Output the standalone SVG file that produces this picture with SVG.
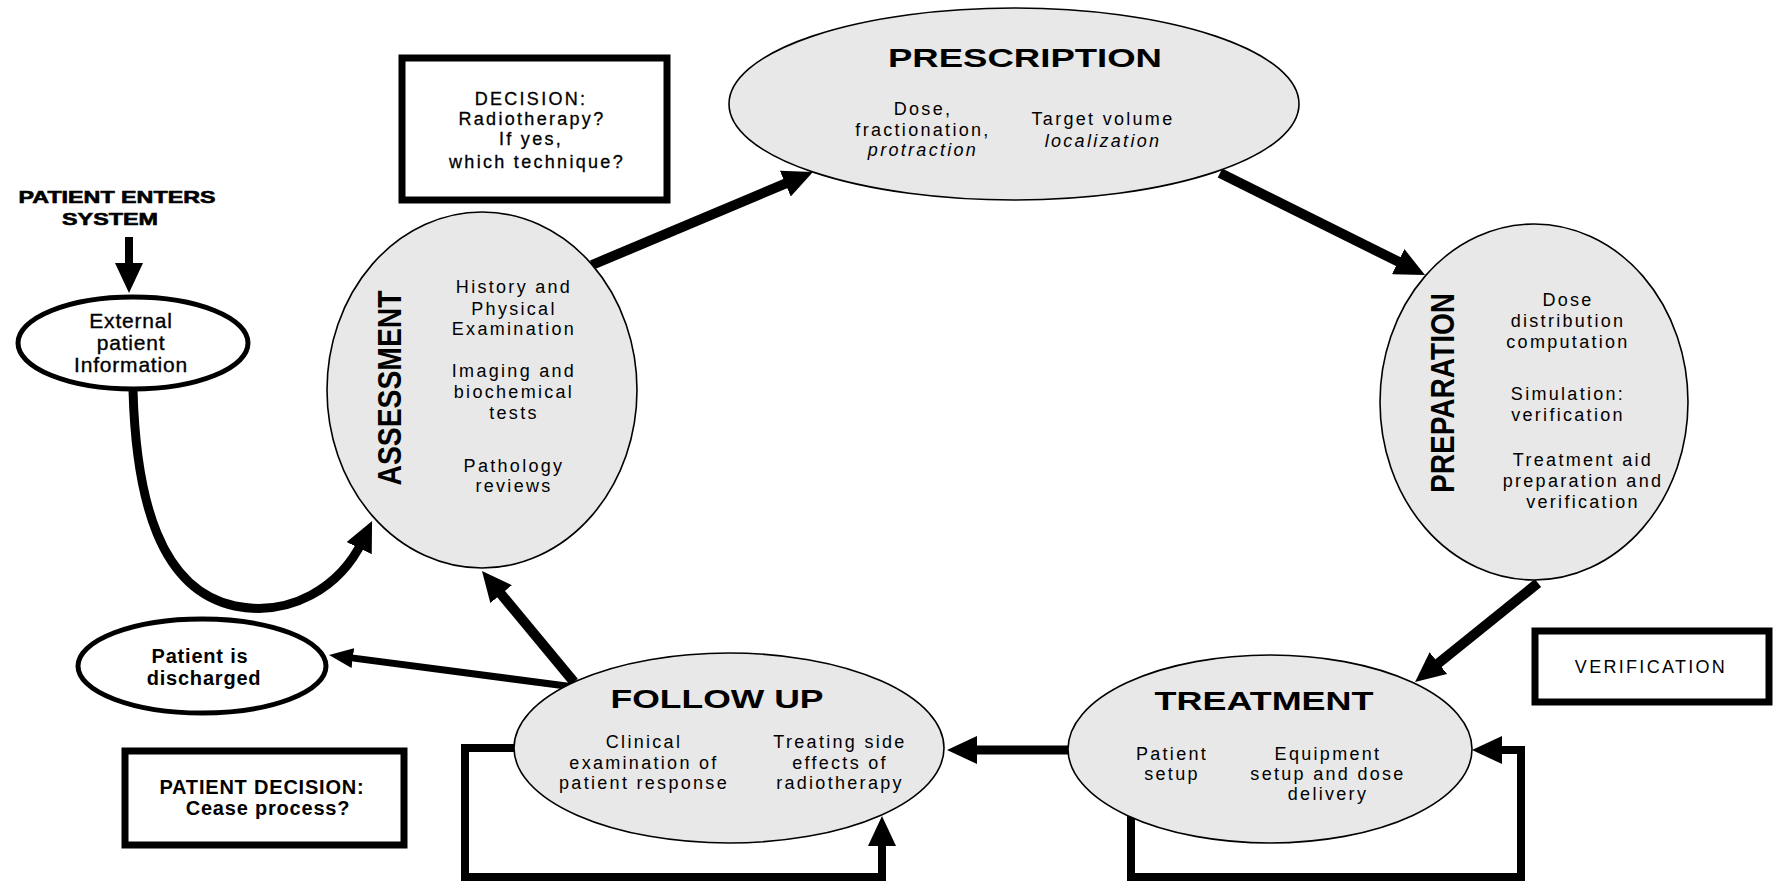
<svg xmlns="http://www.w3.org/2000/svg" width="1774" height="882" viewBox="0 0 1774 882">
<defs>
<style>
text{font-family:"Liberation Sans",Arial,sans-serif;fill:#000}
.b{font-size:18px;letter-spacing:2.3px}
.t{font-size:25px;font-weight:bold}
.v{font-size:34px;font-weight:bold}
.o{font-size:21px;letter-spacing:0.8px;stroke:#000;stroke-width:0.35}
.bb{font-size:20px;font-weight:bold;letter-spacing:0.8px}
.phase{fill:#e8e8e8;stroke:#000;stroke-width:1.6}
.oval{fill:#fff;stroke:#000;stroke-width:5}
.box{fill:#fff;stroke:#000;stroke-width:7}
.c{fill:none;stroke:#000}
</style>
<marker id="ah" markerUnits="userSpaceOnUse" markerWidth="30" markerHeight="28" refX="9" refY="14" orient="auto" viewBox="0 0 30 28"><path d="M0,0 L30,14 L0,28 z"/></marker>
<marker id="ah2" markerUnits="userSpaceOnUse" markerWidth="24" markerHeight="20" refX="7" refY="10" orient="auto" viewBox="0 0 24 20"><path d="M0,0 L24,10 L0,20 z"/></marker>
</defs>
<rect width="1774" height="882" fill="#fff"/>

<g id="connectors">
<line class="c" x1="592" y1="265" x2="793.6" y2="180.1" stroke-width="10" marker-end="url(#ah)"/>
<line class="c" x1="1220" y1="173" x2="1406.2" y2="265.6" stroke-width="10" marker-end="url(#ah)"/>
<line class="c" x1="1538" y1="583" x2="1431.4" y2="668.8" stroke-width="10" marker-end="url(#ah)"/>
<line class="c" x1="1070" y1="750" x2="968" y2="750" stroke-width="9" marker-end="url(#ah)"/>
<line class="c" x1="574" y1="682" x2="495.4" y2="587.2" stroke-width="10" marker-end="url(#ah)"/>
<line class="c" x1="574" y1="687" x2="345.9" y2="657.1" stroke-width="7" marker-end="url(#ah2)"/>
<line class="c" x1="129" y1="237" x2="129" y2="272" stroke-width="8" marker-end="url(#ah)"/>
<path class="c" d="M133,390 C136,500 160,590 235,606 C290,617 340,588 363,540" stroke-width="9" marker-end="url(#ah)"/>
<path class="c" d="M516,748 H465 V877 H882 V837" stroke-width="8" marker-end="url(#ah)"/>
<path class="c" d="M1131,800 V877 H1521 V750 H1493" stroke-width="8" marker-end="url(#ah)"/>
</g>

<g id="prescription">
<ellipse class="phase" cx="1014" cy="104" rx="285" ry="96"/>
<text class="t" x="1025" y="67" text-anchor="middle" textLength="274" lengthAdjust="spacingAndGlyphs">PRESCRIPTION</text>
<text class="b" text-anchor="middle"><tspan x="923" y="115">Dose,</tspan><tspan x="923" y="136">fractionation,</tspan><tspan x="923" y="156" font-style="italic">protraction</tspan></text>
<text class="b" text-anchor="middle"><tspan x="1103" y="125">Target volume</tspan><tspan x="1103" y="147" font-style="italic">localization</tspan></text>
</g>

<g id="assessment">
<ellipse class="phase" cx="482" cy="390" rx="155" ry="178"/>
<text class="v" transform="translate(401,388) rotate(-90)" text-anchor="middle" textLength="195" lengthAdjust="spacingAndGlyphs">ASSESSMENT</text>
<text class="b" text-anchor="middle"><tspan x="514" y="293">History and</tspan><tspan x="514" y="315">Physical</tspan><tspan x="514" y="335">Examination</tspan><tspan x="514" y="377">Imaging and</tspan><tspan x="514" y="398">biochemical</tspan><tspan x="514" y="419">tests</tspan><tspan x="514" y="472">Pathology</tspan><tspan x="514" y="492">reviews</tspan></text>
</g>

<g id="preparation">
<ellipse class="phase" cx="1534" cy="402" rx="154" ry="178"/>
<text class="v" transform="translate(1454,393) rotate(-90)" text-anchor="middle" textLength="200" lengthAdjust="spacingAndGlyphs">PREPARATION</text>
<text class="b" text-anchor="middle"><tspan x="1568" y="306">Dose</tspan><tspan x="1568" y="327">distribution</tspan><tspan x="1568" y="348">computation</tspan><tspan x="1568" y="400">Simulation:</tspan><tspan x="1568" y="421">verification</tspan><tspan x="1583" y="466">Treatment aid</tspan><tspan x="1583" y="487">preparation and</tspan><tspan x="1583" y="508">verification</tspan></text>
</g>

<g id="treatment">
<ellipse class="phase" cx="1270" cy="749" rx="202" ry="94"/>
<text class="t" x="1264" y="710" text-anchor="middle" textLength="219" lengthAdjust="spacingAndGlyphs">TREATMENT</text>
<text class="b" text-anchor="middle"><tspan x="1172" y="760">Patient</tspan><tspan x="1172" y="780">setup</tspan></text>
<text class="b" text-anchor="middle"><tspan x="1328" y="760">Equipment</tspan><tspan x="1328" y="780">setup and dose</tspan><tspan x="1328" y="800">delivery</tspan></text>
</g>

<g id="followup">
<ellipse class="phase" cx="729" cy="748" rx="215" ry="95"/>
<text class="t" x="717" y="708" text-anchor="middle" textLength="213" lengthAdjust="spacingAndGlyphs">FOLLOW UP</text>
<text class="b" text-anchor="middle"><tspan x="644" y="748">Clinical</tspan><tspan x="644" y="769">examination of</tspan><tspan x="644" y="789">patient response</tspan></text>
<text class="b" text-anchor="middle"><tspan x="840" y="748">Treating side</tspan><tspan x="840" y="769">effects of</tspan><tspan x="840" y="789">radiotherapy</tspan></text>
</g>

<g id="decision">
<rect class="box" x="402" y="58" width="265" height="142"/>
<text class="b" text-anchor="middle" letter-spacing="2.5" stroke="#000" stroke-width="0.3"><tspan x="531" y="105">DECISION:</tspan><tspan x="532" y="125">Radiotherapy?</tspan><tspan x="531" y="145">If yes,</tspan><tspan x="537" y="168">which technique?</tspan></text>
</g>

<g id="verification">
<rect class="box" x="1535" y="631" width="234" height="71"/>
<text class="b" x="1651" y="673" text-anchor="middle" letter-spacing="2.8">VERIFICATION</text>
</g>

<g id="patient-decision">
<rect class="box" x="125" y="751" width="279" height="94"/>
<text class="bb" text-anchor="middle"><tspan x="262" y="794">PATIENT DECISION:</tspan><tspan x="268" y="815">Cease process?</tspan></text>
</g>

<g id="patient-enters">
<text font-size="17" font-weight="bold" x="117" y="203" text-anchor="middle" textLength="197" lengthAdjust="spacingAndGlyphs" stroke="#000" stroke-width="0.6">PATIENT ENTERS</text>
<text font-size="17" font-weight="bold" x="110" y="225" text-anchor="middle" textLength="96" lengthAdjust="spacingAndGlyphs" stroke="#000" stroke-width="0.6">SYSTEM</text>
</g>

<g id="external-info">
<ellipse class="oval" cx="133" cy="343" rx="115" ry="46"/>
<text class="o" text-anchor="middle"><tspan x="131" y="328">External</tspan><tspan x="131" y="350">patient</tspan><tspan x="131" y="372">Information</tspan></text>
</g>

<g id="discharged">
<ellipse class="oval" cx="202" cy="666" rx="124" ry="47"/>
<text class="bb" text-anchor="middle"><tspan x="200" y="663">Patient is</tspan><tspan x="204" y="685">discharged</tspan></text>
</g>
</svg>
